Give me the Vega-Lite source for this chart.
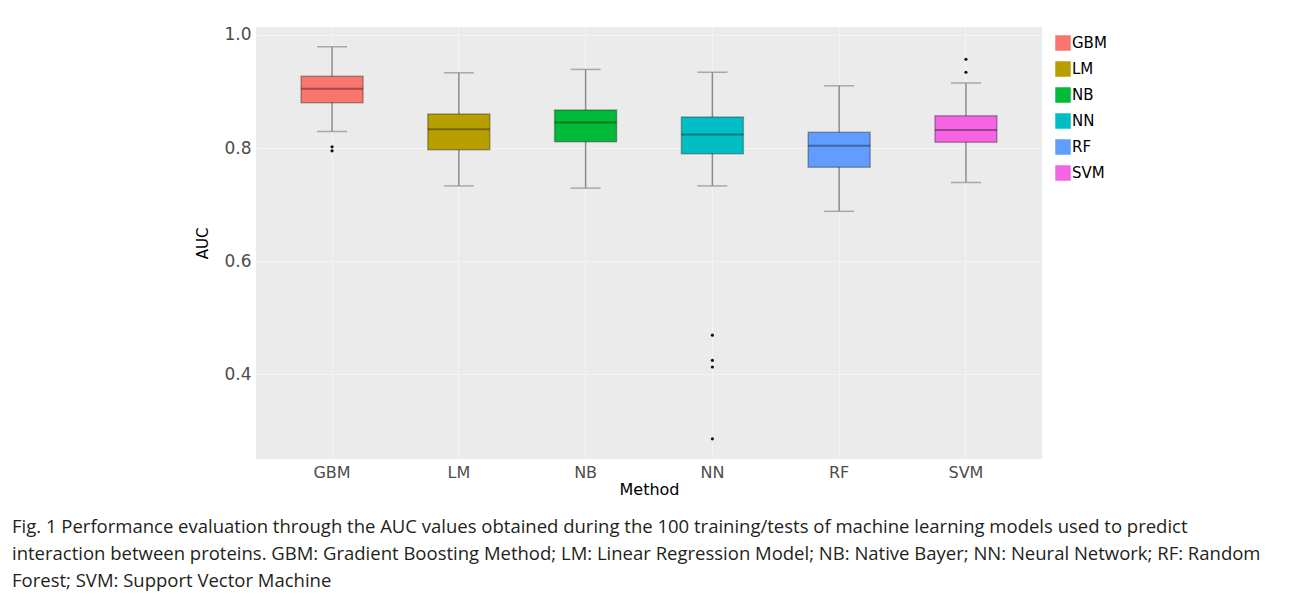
{
  "$schema": "https://vega.github.io/schema/vega-lite/v6.json",
  "width": 786,
  "height": 432,
  "autosize": {"type": "none"},
  "padding": {"left": 256, "top": 27, "right": 250, "bottom": 138},
  "background": "white",
  "config": {"view": {"fill": "#EBEBEB", "stroke": null}, "font": "DejaVu Sans"},
  "title": {
    "text": [
      "Fig. 1 Performance evaluation through the AUC values obtained during the 100 training/tests of machine learning models used to predict",
      "interaction between proteins. GBM: Gradient Boosting Method; LM: Linear Regression Model; NB: Native Bayer; NN: Neural Network; RF: Random",
      "Forest; SVM: Support Vector Machine"
    ],
    "orient": "bottom",
    "anchor": "start",
    "frame": "group",
    "dx": -244,
    "offset": 21,
    "font": "Open Sans",
    "fontSize": 18.5,
    "fontWeight": "normal",
    "color": "#231f20",
    "lineHeight": 27,
    "baseline": "top"
  },
  "datasets": {
    "boxes": [
      {"method": "GBM", "lower": 0.829, "q1": 0.880, "median": 0.905, "q3": 0.927, "upper": 0.979},
      {"method": "LM", "lower": 0.733, "q1": 0.797, "median": 0.833, "q3": 0.860, "upper": 0.933},
      {"method": "NB", "lower": 0.729, "q1": 0.811, "median": 0.845, "q3": 0.867, "upper": 0.939},
      {"method": "NN", "lower": 0.733, "q1": 0.790, "median": 0.824, "q3": 0.855, "upper": 0.934},
      {"method": "RF", "lower": 0.688, "q1": 0.766, "median": 0.804, "q3": 0.828, "upper": 0.910},
      {"method": "SVM", "lower": 0.739, "q1": 0.810, "median": 0.832, "q3": 0.857, "upper": 0.915}
    ],
    "outliers": [
      {"method": "GBM", "auc": 0.802},
      {"method": "GBM", "auc": 0.795},
      {"method": "NN", "auc": 0.469},
      {"method": "NN", "auc": 0.4245},
      {"method": "NN", "auc": 0.4127},
      {"method": "NN", "auc": 0.2857},
      {"method": "SVM", "auc": 0.957},
      {"method": "SVM", "auc": 0.934}
    ]
  },
  "encoding": {
    "x": {
      "field": "method",
      "type": "nominal",
      "scale": {"domain": ["GBM", "LM", "NB", "NN", "RF", "SVM"], "paddingInner": 0.511, "paddingOuter": 0.3555},
      "axis": {
        "title": "Method",
        "labelAngle": 0,
        "labelFontSize": 16,
        "labelColor": "#4d4d4d",
        "labelPadding": 5,
        "ticks": false,
        "domain": false,
        "grid": true,
        "gridColor": "#F4F4F4",
        "bandPosition": 0.5,
        "titleFontSize": 16,
        "titleFontWeight": "normal",
        "titleColor": "#000000",
        "titlePadding": 1
      }
    }
  },
  "layer": [
    {
      "data": {"name": "boxes"},
      "mark": {"type": "rule", "color": "#8c8c8c", "strokeWidth": 1.5},
      "encoding": {
        "y": {
          "field": "lower",
          "type": "quantitative",
          "scale": {"domain": [0.25, 1.014], "nice": false, "zero": false},
          "axis": {
            "title": "AUC",
            "values": [0.4, 0.6, 0.8, 1.0],
            "format": ".1f",
            "labelFontSize": 17,
            "labelColor": "#4d4d4d",
            "labelPadding": 5,
            "ticks": false,
            "domain": false,
            "gridColor": "#F4F4F4",
            "titleFontSize": 15,
            "titleFontWeight": "normal",
            "titleColor": "#000000",
            "titleX": -46,
            "titleY": 216
          }
        },
        "y2": {"field": "upper"}
      }
    },
    {
      "data": {"name": "boxes"},
      "mark": {"type": "tick", "color": "#8c8c8c", "size": 30, "thickness": 1.5},
      "encoding": {"y": {"field": "lower", "type": "quantitative"}}
    },
    {
      "data": {"name": "boxes"},
      "mark": {"type": "tick", "color": "#8c8c8c", "size": 30, "thickness": 1.5},
      "encoding": {"y": {"field": "upper", "type": "quantitative"}}
    },
    {
      "data": {"name": "boxes"},
      "mark": {"type": "bar", "stroke": "#000000", "strokeOpacity": 0.3, "strokeWidth": 1.5, "opacity": 1},
      "encoding": {
        "y": {"field": "q1", "type": "quantitative"},
        "y2": {"field": "q3"},
        "color": {
          "field": "method",
          "type": "nominal",
          "scale": {
            "domain": ["GBM", "LM", "NB", "NN", "RF", "SVM"],
            "range": ["#F8766D", "#B79F00", "#00BA38", "#00BFC4", "#619CFF", "#F564E3"]
          },
          "legend": {
            "title": null,
            "orient": "none",
            "legendX": 799,
            "legendY": 8,
            "padding": 0,
            "symbolType": "square",
            "symbolSize": 240,
            "symbolStrokeWidth": 0,
            "symbolOpacity": 1,
            "labelFontSize": 15,
            "labelColor": "#000000",
            "labelOffset": 1,
            "rowPadding": 10
          }
        }
      }
    },
    {
      "data": {"name": "boxes"},
      "mark": {"type": "tick", "color": "#000000", "opacity": 0.35, "size": 62, "thickness": 2},
      "encoding": {"y": {"field": "median", "type": "quantitative"}}
    },
    {
      "data": {"name": "outliers"},
      "mark": {"type": "circle", "color": "#111111", "size": 10, "opacity": 1},
      "encoding": {"y": {"field": "auc", "type": "quantitative"}}
    }
  ]
}
